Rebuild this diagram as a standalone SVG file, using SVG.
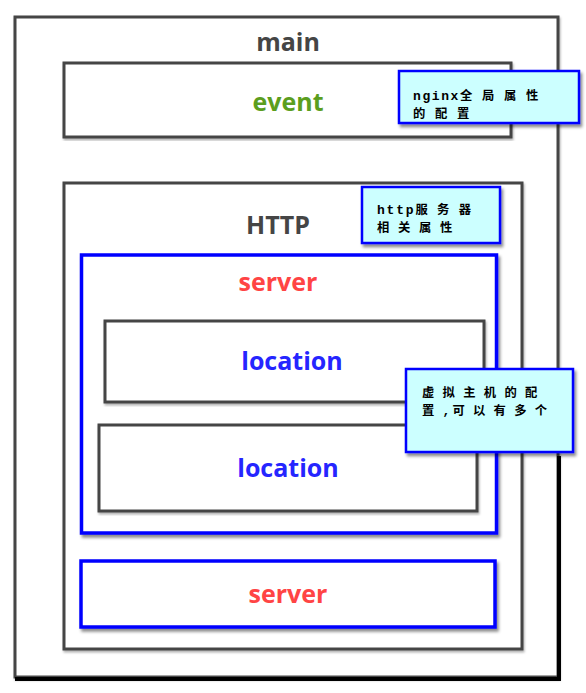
<svg xmlns="http://www.w3.org/2000/svg" width="586" height="693" viewBox="0 0 586 693">
<defs>
<filter id="sh" x="-5%" y="-5%" width="115%" height="120%">
<feDropShadow dx="2" dy="3" stdDeviation="1.5" flood-color="#000" flood-opacity="0.45"/>
</filter>
<filter id="sb" x="-5%" y="-5%" width="110%" height="110%">
<feDropShadow dx="1" dy="2" stdDeviation="1.2" flood-color="#000" flood-opacity="0.3"/>
</filter>
</defs>
<style>
.box{fill:#fff;stroke:#454545;stroke-width:3}
.srv{fill:#fff;stroke:#0000ff;stroke-width:3.5}
.note{fill:#ccffff;stroke:#0000ff;stroke-width:2.5}
.lbl{font-family:"Open Sans","Liberation Sans",sans-serif;font-weight:700;font-size:25px;text-anchor:middle}
.nt{font-family:"Noto Sans CJK SC",sans-serif;font-weight:700;font-size:12.3px;fill:#000}
.lat{font-family:"Liberation Mono",monospace;font-weight:700;font-size:13px}
</style>
<rect width="586" height="693" fill="#fff"/>
<g id="main">
<rect class="box" x="15" y="17" width="543" height="660" filter="url(#sb)"/>
<path d="M559 456 V679 H15" fill="none" stroke="#000" stroke-width="4"/>
<text class="lbl" x="288" y="51" fill="#454545">main</text>
</g>
<g id="event">
<rect class="box" x="64" y="63" width="447" height="74" filter="url(#sb)"/>
<text class="lbl" x="288" y="111" fill="#5b9e1e" font-size="26">event</text>
</g>
<g id="http">
<rect class="box" x="64" y="183" width="458" height="466" filter="url(#sb)"/>
<text class="lbl" x="278" y="234" fill="#454545">HTTP</text>
</g>
<g id="server1">
<rect class="srv" x="81.5" y="255" width="415" height="278" filter="url(#sh)"/>
<text class="lbl" x="278" y="291" fill="#ff4444">server</text>
</g>
<g id="location1">
<rect class="box" x="105" y="321" width="379" height="81" filter="url(#sb)"/>
<text class="lbl" x="292" y="370" fill="#2525ff" font-size="26.5">location</text>
</g>
<g id="location2">
<rect class="box" x="99" y="425" width="378" height="86" filter="url(#sb)"/>
<text class="lbl" x="288" y="477" fill="#2525ff" font-size="26.5">location</text>
</g>
<g id="server2">
<rect class="srv" x="81" y="561" width="414" height="66" filter="url(#sh)"/>
<text class="lbl" x="288" y="603" fill="#ff4444">server</text>
</g>
<g id="note-nginx">
<rect class="note" x="399" y="71" width="180" height="52" filter="url(#sh)"/>
<text class="nt"><tspan x="413" y="99.5"><tspan class="lat" letter-spacing="1.6">nginx</tspan><tspan letter-spacing="9.7">全局属性</tspan></tspan><tspan x="413" y="117.5" letter-spacing="9.7">的配置</tspan></text>
</g>
<g id="note-http">
<rect class="note" x="362" y="187" width="138" height="56" filter="url(#sh)"/>
<text class="nt"><tspan x="377" y="214"><tspan class="lat" letter-spacing="1.8">http</tspan><tspan letter-spacing="9.4">服务器</tspan></tspan><tspan x="377" y="232" letter-spacing="8.7">相关属性</tspan></text>
</g>
<g id="note-vhost">
<rect class="note" x="406" y="369" width="167" height="83" filter="url(#sh)"/>
<text class="nt" letter-spacing="8.3"><tspan x="422" y="396.5">虚拟主机的配</tspan><tspan x="422" y="414.5">置<tspan class="lat" letter-spacing="2">,</tspan>可以有多个</tspan></text>
</g>
<g id="connectors"/>
</svg>
